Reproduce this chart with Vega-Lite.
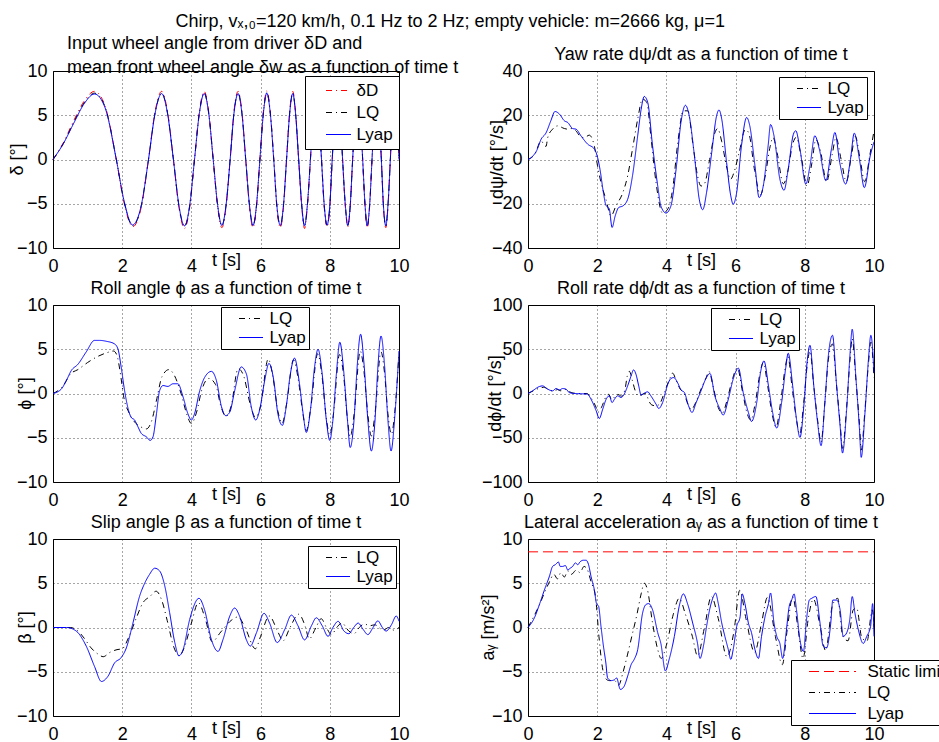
{
"$schema": "https://vega.github.io/schema/vega-lite/v6.json",
"title": {"text": "Chirp, vₓ,₀=120 km/h, 0.1 Hz to 2 Hz; empty vehicle: m=2666 kg, μ=1", "anchor": "middle", "frame": "bounds", "offset": 4, "dx": -28, "fontSize": 18, "fontWeight": "normal", "font": "Liberation Sans", "color": "#000"},
"padding": {"left": 7, "top": 12, "right": 0, "bottom": 0},
"autosize": {"type": "pad"},
"background": "white",
"bounds": "flush",
"columns": 2,
"spacing": {"row": 57, "column": 129},
"resolve": {"scale": {"x": "independent", "y": "independent", "color": "independent", "strokeDash": "independent"}, "axis": {"x": "independent", "y": "independent"}, "legend": {"color": "independent", "strokeDash": "independent"}},
"datasets": {
"d1": [
{"t":0,"D":0,"LQ":0,"Lyap":0},{"t":0.3,"D":1.9,"LQ":1.8,"Lyap":1.8},{"t":0.6,"D":4.4,"LQ":4.2,"Lyap":4.1},{"t":0.9,"D":6.6,"LQ":6.4,"Lyap":6.3},{"t":1.2,"D":7.7,"LQ":7.5,"Lyap":7.4},{"t":1.5,"D":6.1,"LQ":6.0,"Lyap":5.9},{"t":1.83,"D":0,"LQ":0,"Lyap":0},{"t":2.05,"D":-4.8,"LQ":-4.7,"Lyap":-4.6},{"t":2.3,"D":-7.6,"LQ":-7.45,"Lyap":-7.4},{"t":2.55,"D":-5.4,"LQ":-5.25,"Lyap":-5.2},
{"t":2.76,"D":0,"LQ":0,"Lyap":0},{"t":2.95,"D":5.4,"LQ":5.25,"Lyap":5.2},{"t":3.14,"D":7.7,"LQ":7.5,"Lyap":7.45},{"t":3.31,"D":5.4,"LQ":5.25,"Lyap":5.2},{"t":3.48,"D":0,"LQ":0,"Lyap":0},{"t":3.64,"D":-5.4,"LQ":-5.25,"Lyap":-5.2},{"t":3.8,"D":-7.8,"LQ":-7.55,"Lyap":-7.5},{"t":3.95,"D":-5.4,"LQ":-5.25,"Lyap":-5.2},
{"t":4.09,"D":0,"LQ":0,"Lyap":0},{"t":4.23,"D":5.4,"LQ":5.25,"Lyap":5.2},{"t":4.37,"D":7.7,"LQ":7.5,"Lyap":7.45},{"t":4.5,"D":5.4,"LQ":5.25,"Lyap":5.2},{"t":4.63,"D":0,"LQ":0,"Lyap":0},{"t":4.76,"D":-5.4,"LQ":-5.25,"Lyap":-5.2},{"t":4.88,"D":-7.7,"LQ":-7.5,"Lyap":-7.45},{"t":5.0,"D":-5.4,"LQ":-5.25,"Lyap":-5.2},
{"t":5.12,"D":0,"LQ":0,"Lyap":0},{"t":5.23,"D":5.4,"LQ":5.25,"Lyap":5.2},{"t":5.35,"D":7.7,"LQ":7.5,"Lyap":7.45},{"t":5.46,"D":5.4,"LQ":5.25,"Lyap":5.2},{"t":5.57,"D":0,"LQ":0,"Lyap":0},{"t":5.68,"D":-5.4,"LQ":-5.25,"Lyap":-5.2},{"t":5.78,"D":-7.7,"LQ":-7.5,"Lyap":-7.45},{"t":5.88,"D":-5.4,"LQ":-5.25,"Lyap":-5.2},
{"t":5.98,"D":0,"LQ":0,"Lyap":0},{"t":6.08,"D":5.4,"LQ":5.25,"Lyap":5.2},{"t":6.18,"D":7.75,"LQ":7.55,"Lyap":7.5},{"t":6.28,"D":5.4,"LQ":5.25,"Lyap":5.2},{"t":6.38,"D":0,"LQ":0,"Lyap":0},{"t":6.47,"D":-5.4,"LQ":-5.25,"Lyap":-5.2},{"t":6.57,"D":-7.7,"LQ":-7.5,"Lyap":-7.45},{"t":6.66,"D":-5.4,"LQ":-5.25,"Lyap":-5.2},
{"t":6.75,"D":0,"LQ":0,"Lyap":0},{"t":6.84,"D":5.4,"LQ":5.25,"Lyap":5.2},{"t":6.93,"D":7.7,"LQ":7.5,"Lyap":7.45},{"t":7.01,"D":5.4,"LQ":5.25,"Lyap":5.2},{"t":7.1,"D":0,"LQ":0,"Lyap":0},{"t":7.19,"D":-5.4,"LQ":-5.25,"Lyap":-5.2},{"t":7.27,"D":-7.8,"LQ":-7.55,"Lyap":-7.5},{"t":7.35,"D":-5.4,"LQ":-5.25,"Lyap":-5.2},
{"t":7.44,"D":0,"LQ":0,"Lyap":0},{"t":7.52,"D":5.4,"LQ":5.25,"Lyap":5.2},{"t":7.6,"D":7.7,"LQ":7.5,"Lyap":7.45},{"t":7.68,"D":5.4,"LQ":5.25,"Lyap":5.2},{"t":7.76,"D":0,"LQ":0,"Lyap":0},{"t":7.84,"D":-5.4,"LQ":-5.25,"Lyap":-5.2},{"t":7.92,"D":-7.6,"LQ":-7.45,"Lyap":-7.4},{"t":8.0,"D":-5.4,"LQ":-5.25,"Lyap":-5.2},
{"t":8.07,"D":0,"LQ":0,"Lyap":0},{"t":8.15,"D":5.4,"LQ":5.25,"Lyap":5.2},{"t":8.22,"D":7.7,"LQ":7.5,"Lyap":7.45},{"t":8.3,"D":5.4,"LQ":5.25,"Lyap":5.2},{"t":8.37,"D":0,"LQ":0,"Lyap":0},{"t":8.45,"D":-5.4,"LQ":-5.25,"Lyap":-5.2},{"t":8.52,"D":-7.6,"LQ":-7.45,"Lyap":-7.45},{"t":8.59,"D":-5.4,"LQ":-5.25,"Lyap":-5.2},
{"t":8.66,"D":0,"LQ":0,"Lyap":0},{"t":8.74,"D":5.4,"LQ":5.25,"Lyap":5.2},{"t":8.81,"D":7.7,"LQ":7.5,"Lyap":7.45},{"t":8.88,"D":5.4,"LQ":5.25,"Lyap":5.2},{"t":8.95,"D":0,"LQ":0,"Lyap":0},{"t":9.02,"D":-5.4,"LQ":-5.25,"Lyap":-5.2},{"t":9.08,"D":-7.75,"LQ":-7.55,"Lyap":-7.5},{"t":9.15,"D":-5.4,"LQ":-5.25,"Lyap":-5.2},
{"t":9.22,"D":0,"LQ":0,"Lyap":0},{"t":9.29,"D":5.4,"LQ":5.25,"Lyap":5.2},{"t":9.36,"D":7.7,"LQ":7.5,"Lyap":7.45},{"t":9.42,"D":5.4,"LQ":5.25,"Lyap":5.2},{"t":9.49,"D":0,"LQ":0,"Lyap":0},{"t":9.55,"D":-5.4,"LQ":-5.25,"Lyap":-5.2},{"t":9.62,"D":-7.7,"LQ":-7.5,"Lyap":-7.5},{"t":9.68,"D":-5.4,"LQ":-5.25,"Lyap":-5.2},
{"t":9.75,"D":0,"LQ":0,"Lyap":0},{"t":9.81,"D":5.4,"LQ":5.25,"Lyap":5.2},{"t":9.87,"D":7.7,"LQ":7.5,"Lyap":7.45},{"t":9.94,"D":5.4,"LQ":5.25,"Lyap":5.2},{"t":10,"D":0,"LQ":0,"Lyap":0}
],
"d2": [
{"t":0,"v":0,"s":"LQ"},{"t":0.2,"v":2.5,"s":"LQ"},{"t":0.38,"v":8.4,"s":"LQ"},{"t":0.47,"v":6.5,"s":"LQ"},{"t":0.52,"v":5.9,"s":"LQ"},{"t":0.57,"v":9.9,"s":"LQ"},{"t":0.71,"v":13.7,"s":"LQ"},{"t":0.86,"v":15.2,"s":"LQ"},{"t":1.05,"v":14,"s":"LQ"},{"t":1.15,"v":13.7,"s":"LQ"},{"t":1.24,"v":14,"s":"LQ"},{"t":1.37,"v":13.2,"s":"LQ"},{"t":1.53,"v":10.2,"s":"LQ"},{"t":1.63,"v":9.9,"s":"LQ"},{"t":1.77,"v":11,"s":"LQ"},{"t":1.92,"v":5.9,"s":"LQ"},{"t":2.01,"v":-2.9,"s":"LQ"},{"t":2.11,"v":-10.4,"s":"LQ"},{"t":2.25,"v":-17.9,"s":"LQ"},{"t":2.4,"v":-25.5,"s":"LQ"},{"t":2.54,"v":-21,"s":"LQ"},{"t":2.74,"v":-15,"s":"LQ"},{"t":2.88,"v":-7.4,"s":"LQ"},{"t":3.02,"v":4.7,"s":"LQ"},{"t":3.17,"v":18.2,"s":"LQ"},{"t":3.31,"v":27.3,"s":"LQ"},{"t":3.43,"v":25.8,"s":"LQ"},{"t":3.56,"v":9.2,"s":"LQ"},{"t":3.7,"v":-10.4,"s":"LQ"},{"t":3.89,"v":-24.2,"s":"LQ"},{"t":4.04,"v":-22.4,"s":"LQ"},{"t":4.18,"v":-13.4,"s":"LQ"},{"t":4.33,"v":7.7,"s":"LQ"},{"t":4.49,"v":22,"s":"LQ"},{"t":4.62,"v":22,"s":"LQ"},{"t":4.76,"v":7.7,"s":"LQ"},{"t":4.9,"v":-7.4,"s":"LQ"},{"t":5.0,"v":-12,"s":"LQ"},{"t":5.1,"v":-11,"s":"LQ"},{"t":5.25,"v":0,"s":"LQ"},{"t":5.4,"v":12,"s":"LQ"},{"t":5.48,"v":14,"s":"LQ"},{"t":5.6,"v":8,"s":"LQ"},{"t":5.75,"v":-4,"s":"LQ"},{"t":5.85,"v":-9,"s":"LQ"},{"t":5.95,"v":-6,"s":"LQ"},{"t":6.1,"v":3,"s":"LQ"},{"t":6.28,"v":13.5,"s":"LQ"},{"t":6.38,"v":12,"s":"LQ"},{"t":6.55,"v":-5,"s":"LQ"},{"t":6.72,"v":-16,"s":"LQ"},{"t":6.85,"v":-8,"s":"LQ"},{"t":7.0,"v":6,"s":"LQ"},{"t":7.08,"v":10,"s":"LQ"},{"t":7.2,"v":3,"s":"LQ"},{"t":7.38,"v":-11,"s":"LQ"},{"t":7.5,"v":-6,"s":"LQ"},{"t":7.65,"v":7,"s":"LQ"},{"t":7.75,"v":10,"s":"LQ"},{"t":7.9,"v":1,"s":"LQ"},{"t":8.06,"v":-12,"s":"LQ"},{"t":8.2,"v":-2,"s":"LQ"},{"t":8.32,"v":9,"s":"LQ"},{"t":8.45,"v":4,"s":"LQ"},{"t":8.63,"v":-10,"s":"LQ"},{"t":8.8,"v":3,"s":"LQ"},{"t":8.9,"v":10,"s":"LQ"},{"t":9.05,"v":0,"s":"LQ"},{"t":9.2,"v":-10,"s":"LQ"},{"t":9.35,"v":2,"s":"LQ"},{"t":9.46,"v":10.5,"s":"LQ"},{"t":9.6,"v":0,"s":"LQ"},{"t":9.73,"v":-10,"s":"LQ"},{"t":9.88,"v":2,"s":"LQ"},{"t":10,"v":13,"s":"LQ"},
{"t":0,"v":0,"s":"Lyap"},{"t":0.13,"v":1.4,"s":"Lyap"},{"t":0.25,"v":4,"s":"Lyap"},{"t":0.38,"v":9.2,"s":"Lyap"},{"t":0.52,"v":12,"s":"Lyap"},{"t":0.66,"v":17.5,"s":"Lyap"},{"t":0.78,"v":21.7,"s":"Lyap"},{"t":0.91,"v":20.5,"s":"Lyap"},{"t":1.05,"v":17.5,"s":"Lyap"},{"t":1.15,"v":16.7,"s":"Lyap"},{"t":1.29,"v":14,"s":"Lyap"},{"t":1.39,"v":13.7,"s":"Lyap"},{"t":1.53,"v":10.7,"s":"Lyap"},{"t":1.72,"v":7,"s":"Lyap"},{"t":1.92,"v":4.7,"s":"Lyap"},{"t":2.01,"v":1,"s":"Lyap"},{"t":2.08,"v":-4.4,"s":"Lyap"},{"t":2.18,"v":-15,"s":"Lyap"},{"t":2.25,"v":-20.6,"s":"Lyap"},{"t":2.35,"v":-22.4,"s":"Lyap"},{"t":2.43,"v":-30.7,"s":"Lyap"},{"t":2.52,"v":-25.5,"s":"Lyap"},{"t":2.62,"v":-21.7,"s":"Lyap"},{"t":2.74,"v":-21,"s":"Lyap"},{"t":2.88,"v":-18,"s":"Lyap"},{"t":3.02,"v":-7.4,"s":"Lyap"},{"t":3.17,"v":10.7,"s":"Lyap"},{"t":3.27,"v":22.7,"s":"Lyap"},{"t":3.36,"v":28.5,"s":"Lyap"},{"t":3.46,"v":25.8,"s":"Lyap"},{"t":3.6,"v":6.2,"s":"Lyap"},{"t":3.75,"v":-12,"s":"Lyap"},{"t":3.84,"v":-21,"s":"Lyap"},{"t":3.99,"v":-24.2,"s":"Lyap"},{"t":4.13,"v":-21,"s":"Lyap"},{"t":4.28,"v":-4.4,"s":"Lyap"},{"t":4.42,"v":16.7,"s":"Lyap"},{"t":4.55,"v":24.5,"s":"Lyap"},{"t":4.66,"v":19.7,"s":"Lyap"},{"t":4.81,"v":1.7,"s":"Lyap"},{"t":4.95,"v":-18,"s":"Lyap"},{"t":5.05,"v":-22.7,"s":"Lyap"},{"t":5.16,"v":-15,"s":"Lyap"},{"t":5.31,"v":3.2,"s":"Lyap"},{"t":5.45,"v":19.7,"s":"Lyap"},{"t":5.52,"v":22.4,"s":"Lyap"},{"t":5.6,"v":18.2,"s":"Lyap"},{"t":5.74,"v":-1.4,"s":"Lyap"},{"t":5.86,"v":-16.4,"s":"Lyap"},{"t":5.93,"v":-20.2,"s":"Lyap"},{"t":6.03,"v":-15,"s":"Lyap"},{"t":6.17,"v":6.2,"s":"Lyap"},{"t":6.32,"v":19,"s":"Lyap"},{"t":6.41,"v":15.2,"s":"Lyap"},{"t":6.56,"v":-2.9,"s":"Lyap"},{"t":6.68,"v":-17.2,"s":"Lyap"},{"t":6.8,"v":-11.9,"s":"Lyap"},{"t":6.94,"v":6.2,"s":"Lyap"},{"t":7.01,"v":15.8,"s":"Lyap"},{"t":7.11,"v":10.7,"s":"Lyap"},{"t":7.28,"v":-8.9,"s":"Lyap"},{"t":7.4,"v":-13.9,"s":"Lyap"},{"t":7.52,"v":-4.4,"s":"Lyap"},{"t":7.67,"v":11.4,"s":"Lyap"},{"t":7.74,"v":13,"s":"Lyap"},{"t":7.86,"v":4.7,"s":"Lyap"},{"t":8.03,"v":-11.1,"s":"Lyap"},{"t":8.15,"v":-2.9,"s":"Lyap"},{"t":8.29,"v":10.7,"s":"Lyap"},{"t":8.42,"v":4.7,"s":"Lyap"},{"t":8.61,"v":-9.6,"s":"Lyap"},{"t":8.77,"v":4.7,"s":"Lyap"},{"t":8.87,"v":12.2,"s":"Lyap"},{"t":9.01,"v":-1.4,"s":"Lyap"},{"t":9.18,"v":-11.1,"s":"Lyap"},{"t":9.32,"v":0.1,"s":"Lyap"},{"t":9.43,"v":11.9,"s":"Lyap"},{"t":9.58,"v":0,"s":"Lyap"},{"t":9.72,"v":-12.7,"s":"Lyap"},{"t":9.89,"v":1.6,"s":"Lyap"},{"t":10,"v":8,"s":"Lyap"}
],
"d3": [
{"t":0,"v":0,"s":"LQ"},{"t":0.3,"v":0.9,"s":"LQ"},{"t":0.5,"v":2.2,"s":"LQ"},{"t":0.72,"v":2.7,"s":"LQ"},{"t":1.0,"v":3.5,"s":"LQ"},{"t":1.3,"v":4.2,"s":"LQ"},{"t":1.55,"v":4.6,"s":"LQ"},{"t":1.75,"v":4.8,"s":"LQ"},{"t":1.85,"v":4.3,"s":"LQ"},{"t":1.95,"v":2.2,"s":"LQ"},{"t":2.05,"v":-0.5,"s":"LQ"},{"t":2.2,"v":-2.2,"s":"LQ"},{"t":2.4,"v":-3.4,"s":"LQ"},{"t":2.55,"v":-3.8,"s":"LQ"},{"t":2.7,"v":-4.0,"s":"LQ"},{"t":2.85,"v":-3.1,"s":"LQ"},{"t":3.0,"v":-0.6,"s":"LQ"},{"t":3.15,"v":1.9,"s":"LQ"},{"t":3.35,"v":2.7,"s":"LQ"},{"t":3.5,"v":2.1,"s":"LQ"},{"t":3.7,"v":0,"s":"LQ"},{"t":3.88,"v":-2.5,"s":"LQ"},{"t":4.0,"v":-3.4,"s":"LQ"},{"t":4.15,"v":-2.1,"s":"LQ"},{"t":4.3,"v":0.4,"s":"LQ"},{"t":4.5,"v":1.7,"s":"LQ"},{"t":4.7,"v":1.0,"s":"LQ"},{"t":4.85,"v":-1.4,"s":"LQ"},{"t":5.0,"v":-2.6,"s":"LQ"},{"t":5.15,"v":-1.4,"s":"LQ"},{"t":5.35,"v":2.8,"s":"LQ"},{"t":5.5,"v":2.1,"s":"LQ"},{"t":5.7,"v":-1.2,"s":"LQ"},{"t":5.85,"v":-2.7,"s":"LQ"},{"t":6.0,"v":-1.4,"s":"LQ"},{"t":6.22,"v":3.9,"s":"LQ"},{"t":6.35,"v":2.0,"s":"LQ"},{"t":6.5,"v":-2.0,"s":"LQ"},{"t":6.62,"v":-3.4,"s":"LQ"},{"t":6.75,"v":-1.2,"s":"LQ"},{"t":6.95,"v":3.8,"s":"LQ"},{"t":7.1,"v":1.3,"s":"LQ"},{"t":7.22,"v":-2.2,"s":"LQ"},{"t":7.32,"v":-4.2,"s":"LQ"},{"t":7.45,"v":-1.6,"s":"LQ"},{"t":7.65,"v":4.5,"s":"LQ"},{"t":7.78,"v":1.8,"s":"LQ"},{"t":7.9,"v":-2.8,"s":"LQ"},{"t":8.0,"v":-4.7,"s":"LQ"},{"t":8.1,"v":-2.5,"s":"LQ"},{"t":8.28,"v":4.4,"s":"LQ"},{"t":8.4,"v":2.0,"s":"LQ"},{"t":8.5,"v":-2.5,"s":"LQ"},{"t":8.59,"v":-4.9,"s":"LQ"},{"t":8.7,"v":-2.4,"s":"LQ"},{"t":8.88,"v":4.8,"s":"LQ"},{"t":8.99,"v":2.4,"s":"LQ"},{"t":9.1,"v":-2.4,"s":"LQ"},{"t":9.2,"v":-4.8,"s":"LQ"},{"t":9.3,"v":-2.5,"s":"LQ"},{"t":9.48,"v":4.7,"s":"LQ"},{"t":9.58,"v":2.4,"s":"LQ"},{"t":9.68,"v":-2.3,"s":"LQ"},{"t":9.78,"v":-4.6,"s":"LQ"},{"t":9.88,"v":-2.0,"s":"LQ"},{"t":10,"v":4.6,"s":"LQ"},
{"t":0,"v":0,"s":"Lyap"},{"t":0.24,"v":0.5,"s":"Lyap"},{"t":0.39,"v":1.5,"s":"Lyap"},{"t":0.53,"v":2.6,"s":"Lyap"},{"t":0.72,"v":3.3,"s":"Lyap"},{"t":0.96,"v":4.7,"s":"Lyap"},{"t":1.2,"v":6.0,"s":"Lyap"},{"t":1.35,"v":6.0,"s":"Lyap"},{"t":1.54,"v":5.9,"s":"Lyap"},{"t":1.78,"v":5.6,"s":"Lyap"},{"t":1.88,"v":5.0,"s":"Lyap"},{"t":1.97,"v":3.0,"s":"Lyap"},{"t":2.07,"v":0.3,"s":"Lyap"},{"t":2.17,"v":-1.7,"s":"Lyap"},{"t":2.26,"v":-2.7,"s":"Lyap"},{"t":2.36,"v":-3.0,"s":"Lyap"},{"t":2.46,"v":-3.8,"s":"Lyap"},{"t":2.55,"v":-4.5,"s":"Lyap"},{"t":2.7,"v":-4.9,"s":"Lyap"},{"t":2.81,"v":-5.3,"s":"Lyap"},{"t":2.89,"v":-4.9,"s":"Lyap"},{"t":2.99,"v":-2.3,"s":"Lyap"},{"t":3.08,"v":0.3,"s":"Lyap"},{"t":3.18,"v":0.9,"s":"Lyap"},{"t":3.32,"v":0.8,"s":"Lyap"},{"t":3.47,"v":1.1,"s":"Lyap"},{"t":3.61,"v":1.1,"s":"Lyap"},{"t":3.76,"v":-0.4,"s":"Lyap"},{"t":3.9,"v":-2.3,"s":"Lyap"},{"t":4.0,"v":-3.0,"s":"Lyap"},{"t":4.09,"v":-2.3,"s":"Lyap"},{"t":4.24,"v":0.3,"s":"Lyap"},{"t":4.38,"v":1.8,"s":"Lyap"},{"t":4.58,"v":2.5,"s":"Lyap"},{"t":4.72,"v":1.5,"s":"Lyap"},{"t":4.87,"v":-1.5,"s":"Lyap"},{"t":4.99,"v":-2.5,"s":"Lyap"},{"t":5.11,"v":-2.1,"s":"Lyap"},{"t":5.25,"v":0.3,"s":"Lyap"},{"t":5.44,"v":3.0,"s":"Lyap"},{"t":5.59,"v":2.2,"s":"Lyap"},{"t":5.73,"v":-1.5,"s":"Lyap"},{"t":5.86,"v":-3.0,"s":"Lyap"},{"t":5.97,"v":-1.9,"s":"Lyap"},{"t":6.12,"v":1.5,"s":"Lyap"},{"t":6.24,"v":3.4,"s":"Lyap"},{"t":6.38,"v":1.5,"s":"Lyap"},{"t":6.5,"v":-2.3,"s":"Lyap"},{"t":6.63,"v":-3.6,"s":"Lyap"},{"t":6.74,"v":-1.5,"s":"Lyap"},{"t":6.86,"v":2.2,"s":"Lyap"},{"t":6.98,"v":4.0,"s":"Lyap"},{"t":7.11,"v":1.5,"s":"Lyap"},{"t":7.23,"v":-2.3,"s":"Lyap"},{"t":7.32,"v":-4.4,"s":"Lyap"},{"t":7.44,"v":-1.9,"s":"Lyap"},{"t":7.56,"v":3.0,"s":"Lyap"},{"t":7.66,"v":5.0,"s":"Lyap"},{"t":7.78,"v":2.2,"s":"Lyap"},{"t":7.9,"v":-3.0,"s":"Lyap"},{"t":8.0,"v":-5.3,"s":"Lyap"},{"t":8.09,"v":-3.0,"s":"Lyap"},{"t":8.19,"v":2.2,"s":"Lyap"},{"t":8.29,"v":5.8,"s":"Lyap"},{"t":8.4,"v":2.6,"s":"Lyap"},{"t":8.51,"v":-3.0,"s":"Lyap"},{"t":8.59,"v":-6.1,"s":"Lyap"},{"t":8.7,"v":-3.0,"s":"Lyap"},{"t":8.79,"v":3.0,"s":"Lyap"},{"t":8.89,"v":6.7,"s":"Lyap"},{"t":8.99,"v":3.3,"s":"Lyap"},{"t":9.1,"v":-3.0,"s":"Lyap"},{"t":9.2,"v":-6.5,"s":"Lyap"},{"t":9.3,"v":-3.4,"s":"Lyap"},{"t":9.39,"v":3.0,"s":"Lyap"},{"t":9.48,"v":6.5,"s":"Lyap"},{"t":9.58,"v":3.3,"s":"Lyap"},{"t":9.68,"v":-3.0,"s":"Lyap"},{"t":9.77,"v":-6.5,"s":"Lyap"},{"t":9.88,"v":-2.5,"s":"Lyap"},{"t":10,"v":4.8,"s":"Lyap"}
],
"d4": [
{"t":0,"v":0,"s":"LQ"},{"t":0.15,"v":3,"s":"LQ"},{"t":0.33,"v":6,"s":"LQ"},{"t":0.45,"v":7,"s":"LQ"},{"t":0.6,"v":4.5,"s":"LQ"},{"t":0.75,"v":2.5,"s":"LQ"},{"t":0.85,"v":4.5,"s":"LQ"},{"t":0.95,"v":3,"s":"LQ"},{"t":1.05,"v":5,"s":"LQ"},{"t":1.15,"v":3,"s":"LQ"},{"t":1.3,"v":0.5,"s":"LQ"},{"t":1.5,"v":0,"s":"LQ"},{"t":1.7,"v":0,"s":"LQ"},{"t":1.82,"v":-5,"s":"LQ"},{"t":1.95,"v":-14,"s":"LQ"},{"t":2.03,"v":-21,"s":"LQ"},{"t":2.12,"v":-16,"s":"LQ"},{"t":2.25,"v":-4,"s":"LQ"},{"t":2.33,"v":-1,"s":"LQ"},{"t":2.42,"v":-7,"s":"LQ"},{"t":2.5,"v":-4,"s":"LQ"},{"t":2.6,"v":-1,"s":"LQ"},{"t":2.7,"v":-3,"s":"LQ"},{"t":2.8,"v":4,"s":"LQ"},{"t":2.87,"v":20,"s":"LQ"},{"t":2.93,"v":25,"s":"LQ"},{"t":3.02,"v":14,"s":"LQ"},{"t":3.1,"v":3,"s":"LQ"},{"t":3.2,"v":-3,"s":"LQ"},{"t":3.3,"v":-1,"s":"LQ"},{"t":3.4,"v":0,"s":"LQ"},{"t":3.5,"v":-9,"s":"LQ"},{"t":3.58,"v":-13,"s":"LQ"},{"t":3.7,"v":-14,"s":"LQ"},{"t":3.8,"v":-12,"s":"LQ"},{"t":3.95,"v":2,"s":"LQ"},{"t":4.1,"v":17,"s":"LQ"},{"t":4.18,"v":23,"s":"LQ"},{"t":4.28,"v":15,"s":"LQ"},{"t":4.4,"v":5,"s":"LQ"},{"t":4.5,"v":1,"s":"LQ"},{"t":4.62,"v":-12,"s":"LQ"},{"t":4.72,"v":-18,"s":"LQ"},{"t":4.85,"v":-10,"s":"LQ"},{"t":5.0,"v":5,"s":"LQ"},{"t":5.15,"v":18,"s":"LQ"},{"t":5.23,"v":25,"s":"LQ"},{"t":5.35,"v":8,"s":"LQ"},{"t":5.5,"v":-16,"s":"LQ"},{"t":5.62,"v":-22,"s":"LQ"},{"t":5.75,"v":-8,"s":"LQ"},{"t":5.88,"v":12,"s":"LQ"},{"t":6.05,"v":29,"s":"LQ"},{"t":6.2,"v":2,"s":"LQ"},{"t":6.33,"v":-22,"s":"LQ"},{"t":6.44,"v":-30,"s":"LQ"},{"t":6.58,"v":-8,"s":"LQ"},{"t":6.7,"v":22,"s":"LQ"},{"t":6.8,"v":35,"s":"LQ"},{"t":6.93,"v":8,"s":"LQ"},{"t":7.05,"v":-22,"s":"LQ"},{"t":7.17,"v":-38,"s":"LQ"},{"t":7.3,"v":-10,"s":"LQ"},{"t":7.43,"v":28,"s":"LQ"},{"t":7.51,"v":42,"s":"LQ"},{"t":7.63,"v":8,"s":"LQ"},{"t":7.75,"v":-27,"s":"LQ"},{"t":7.85,"v":-46,"s":"LQ"},{"t":7.97,"v":-10,"s":"LQ"},{"t":8.07,"v":32,"s":"LQ"},{"t":8.15,"v":48,"s":"LQ"},{"t":8.26,"v":8,"s":"LQ"},{"t":8.37,"v":-30,"s":"LQ"},{"t":8.47,"v":-55,"s":"LQ"},{"t":8.58,"v":-10,"s":"LQ"},{"t":8.68,"v":38,"s":"LQ"},{"t":8.8,"v":56,"s":"LQ"},{"t":8.92,"v":8,"s":"LQ"},{"t":9.02,"v":-33,"s":"LQ"},{"t":9.09,"v":-62,"s":"LQ"},{"t":9.21,"v":-15,"s":"LQ"},{"t":9.31,"v":40,"s":"LQ"},{"t":9.37,"v":62,"s":"LQ"},{"t":9.48,"v":14,"s":"LQ"},{"t":9.58,"v":-35,"s":"LQ"},{"t":9.63,"v":-64,"s":"LQ"},{"t":9.74,"v":-18,"s":"LQ"},{"t":9.84,"v":34,"s":"LQ"},{"t":9.91,"v":58,"s":"LQ"},{"t":10,"v":18,"s":"LQ"},
{"t":0,"v":0,"s":"Lyap"},{"t":0.13,"v":3,"s":"Lyap"},{"t":0.33,"v":7.9,"s":"Lyap"},{"t":0.42,"v":8.6,"s":"Lyap"},{"t":0.57,"v":4.9,"s":"Lyap"},{"t":0.71,"v":3,"s":"Lyap"},{"t":0.81,"v":5.6,"s":"Lyap"},{"t":0.91,"v":4.1,"s":"Lyap"},{"t":1.0,"v":5.6,"s":"Lyap"},{"t":1.1,"v":4.9,"s":"Lyap"},{"t":1.19,"v":1.1,"s":"Lyap"},{"t":1.34,"v":0,"s":"Lyap"},{"t":1.58,"v":-0.4,"s":"Lyap"},{"t":1.72,"v":-0.8,"s":"Lyap"},{"t":1.82,"v":-6.4,"s":"Lyap"},{"t":1.97,"v":-19.5,"s":"Lyap"},{"t":2.06,"v":-28.2,"s":"Lyap"},{"t":2.16,"v":-17.7,"s":"Lyap"},{"t":2.26,"v":-6.4,"s":"Lyap"},{"t":2.35,"v":-2.6,"s":"Lyap"},{"t":2.43,"v":-10.2,"s":"Lyap"},{"t":2.5,"v":-6.4,"s":"Lyap"},{"t":2.59,"v":-2.6,"s":"Lyap"},{"t":2.69,"v":-4.5,"s":"Lyap"},{"t":2.78,"v":-0.8,"s":"Lyap"},{"t":2.88,"v":8.6,"s":"Lyap"},{"t":2.98,"v":19.9,"s":"Lyap"},{"t":3.05,"v":26.7,"s":"Lyap"},{"t":3.12,"v":21.8,"s":"Lyap"},{"t":3.2,"v":8.6,"s":"Lyap"},{"t":3.27,"v":-1.9,"s":"Lyap"},{"t":3.36,"v":0.4,"s":"Lyap"},{"t":3.46,"v":1.9,"s":"Lyap"},{"t":3.55,"v":-2.6,"s":"Lyap"},{"t":3.7,"v":-12,"s":"Lyap"},{"t":3.78,"v":-16.9,"s":"Lyap"},{"t":3.89,"v":-10.2,"s":"Lyap"},{"t":4.04,"v":10.5,"s":"Lyap"},{"t":4.13,"v":16.9,"s":"Lyap"},{"t":4.21,"v":18,"s":"Lyap"},{"t":4.33,"v":11.7,"s":"Lyap"},{"t":4.42,"v":4.1,"s":"Lyap"},{"t":4.52,"v":1.1,"s":"Lyap"},{"t":4.64,"v":-13.9,"s":"Lyap"},{"t":4.74,"v":-21.4,"s":"Lyap"},{"t":4.86,"v":-10.2,"s":"Lyap"},{"t":5.0,"v":3,"s":"Lyap"},{"t":5.12,"v":15,"s":"Lyap"},{"t":5.26,"v":22.6,"s":"Lyap"},{"t":5.4,"v":-2.6,"s":"Lyap"},{"t":5.55,"v":-17.7,"s":"Lyap"},{"t":5.64,"v":-24.4,"s":"Lyap"},{"t":5.79,"v":-6.4,"s":"Lyap"},{"t":5.93,"v":16.2,"s":"Lyap"},{"t":6.08,"v":28.6,"s":"Lyap"},{"t":6.22,"v":1.1,"s":"Lyap"},{"t":6.37,"v":-21.4,"s":"Lyap"},{"t":6.46,"v":-31.6,"s":"Lyap"},{"t":6.61,"v":-10.2,"s":"Lyap"},{"t":6.72,"v":23.7,"s":"Lyap"},{"t":6.82,"v":36.8,"s":"Lyap"},{"t":6.95,"v":8.6,"s":"Lyap"},{"t":7.07,"v":-21.4,"s":"Lyap"},{"t":7.19,"v":-39,"s":"Lyap"},{"t":7.33,"v":-10.2,"s":"Lyap"},{"t":7.45,"v":29.3,"s":"Lyap"},{"t":7.52,"v":45.5,"s":"Lyap"},{"t":7.65,"v":8.6,"s":"Lyap"},{"t":7.76,"v":-29,"s":"Lyap"},{"t":7.86,"v":-49.6,"s":"Lyap"},{"t":7.98,"v":-10.2,"s":"Lyap"},{"t":8.07,"v":36.8,"s":"Lyap"},{"t":8.15,"v":54.5,"s":"Lyap"},{"t":8.26,"v":8.6,"s":"Lyap"},{"t":8.37,"v":-32.7,"s":"Lyap"},{"t":8.47,"v":-59,"s":"Lyap"},{"t":8.58,"v":-10.2,"s":"Lyap"},{"t":8.68,"v":42.5,"s":"Lyap"},{"t":8.8,"v":65.8,"s":"Lyap"},{"t":8.92,"v":8.6,"s":"Lyap"},{"t":9.02,"v":-36.5,"s":"Lyap"},{"t":9.09,"v":-67.3,"s":"Lyap"},{"t":9.21,"v":-17.7,"s":"Lyap"},{"t":9.31,"v":46.2,"s":"Lyap"},{"t":9.37,"v":72.6,"s":"Lyap"},{"t":9.48,"v":16.2,"s":"Lyap"},{"t":9.58,"v":-40.2,"s":"Lyap"},{"t":9.63,"v":-72.2,"s":"Lyap"},{"t":9.74,"v":-21.4,"s":"Lyap"},{"t":9.84,"v":38.7,"s":"Lyap"},{"t":9.91,"v":65.8,"s":"Lyap"},{"t":10,"v":23.7,"s":"Lyap"}
],
"d5": [
{"t":0,"v":0,"s":"LQ"},{"t":0.5,"v":0,"s":"LQ"},{"t":0.72,"v":-0.4,"s":"LQ"},{"t":0.9,"v":-1.2,"s":"LQ"},{"t":1.1,"v":-2.3,"s":"LQ"},{"t":1.3,"v":-3.0,"s":"LQ"},{"t":1.45,"v":-3.3,"s":"LQ"},{"t":1.65,"v":-2.8,"s":"LQ"},{"t":1.85,"v":-2.5,"s":"LQ"},{"t":2.0,"v":-2.4,"s":"LQ"},{"t":2.2,"v":-1.0,"s":"LQ"},{"t":2.4,"v":1.0,"s":"LQ"},{"t":2.6,"v":2.8,"s":"LQ"},{"t":2.8,"v":3.5,"s":"LQ"},{"t":2.98,"v":4.1,"s":"LQ"},{"t":3.15,"v":3.0,"s":"LQ"},{"t":3.3,"v":0.8,"s":"LQ"},{"t":3.5,"v":-2.3,"s":"LQ"},{"t":3.65,"v":-3.2,"s":"LQ"},{"t":3.8,"v":-2.2,"s":"LQ"},{"t":4.0,"v":0.5,"s":"LQ"},{"t":4.2,"v":2.8,"s":"LQ"},{"t":4.4,"v":1.0,"s":"LQ"},{"t":4.6,"v":-1.6,"s":"LQ"},{"t":4.85,"v":-0.5,"s":"LQ"},{"t":5.15,"v":0.8,"s":"LQ"},{"t":5.35,"v":1.2,"s":"LQ"},{"t":5.55,"v":0,"s":"LQ"},{"t":5.85,"v":-2.4,"s":"LQ"},{"t":6.0,"v":-1.0,"s":"LQ"},{"t":6.25,"v":1.3,"s":"LQ"},{"t":6.5,"v":-0.5,"s":"LQ"},{"t":6.65,"v":-1.5,"s":"LQ"},{"t":6.85,"v":0,"s":"LQ"},{"t":7.1,"v":1.5,"s":"LQ"},{"t":7.3,"v":0,"s":"LQ"},{"t":7.4,"v":-1.3,"s":"LQ"},{"t":7.6,"v":0,"s":"LQ"},{"t":7.75,"v":1.0,"s":"LQ"},{"t":7.9,"v":0,"s":"LQ"},{"t":8.05,"v":-0.8,"s":"LQ"},{"t":8.2,"v":0,"s":"LQ"},{"t":8.35,"v":0.5,"s":"LQ"},{"t":8.55,"v":-0.4,"s":"LQ"},{"t":8.7,"v":-0.7,"s":"LQ"},{"t":8.85,"v":0,"s":"LQ"},{"t":9.0,"v":0.4,"s":"LQ"},{"t":9.15,"v":0.2,"s":"LQ"},{"t":9.3,"v":0.3,"s":"LQ"},{"t":9.55,"v":-0.3,"s":"LQ"},{"t":9.7,"v":0,"s":"LQ"},{"t":9.85,"v":-0.3,"s":"LQ"},{"t":10,"v":0,"s":"LQ"},
{"t":0,"v":0,"s":"Lyap"},{"t":0.39,"v":0,"s":"Lyap"},{"t":0.67,"v":-0.4,"s":"Lyap"},{"t":0.96,"v":-2.1,"s":"Lyap"},{"t":1.2,"v":-4.4,"s":"Lyap"},{"t":1.4,"v":-6.1,"s":"Lyap"},{"t":1.59,"v":-5.5,"s":"Lyap"},{"t":1.78,"v":-4.0,"s":"Lyap"},{"t":1.97,"v":-3.4,"s":"Lyap"},{"t":2.12,"v":-2.3,"s":"Lyap"},{"t":2.31,"v":0.5,"s":"Lyap"},{"t":2.5,"v":3.5,"s":"Lyap"},{"t":2.65,"v":5.0,"s":"Lyap"},{"t":2.79,"v":6.0,"s":"Lyap"},{"t":2.94,"v":6.7,"s":"Lyap"},{"t":3.08,"v":6.4,"s":"Lyap"},{"t":3.23,"v":4.7,"s":"Lyap"},{"t":3.37,"v":1.7,"s":"Lyap"},{"t":3.52,"v":-1.7,"s":"Lyap"},{"t":3.64,"v":-3.2,"s":"Lyap"},{"t":3.76,"v":-2.5,"s":"Lyap"},{"t":3.95,"v":0.9,"s":"Lyap"},{"t":4.22,"v":3.3,"s":"Lyap"},{"t":4.38,"v":2.0,"s":"Lyap"},{"t":4.58,"v":-1.4,"s":"Lyap"},{"t":4.77,"v":-2.7,"s":"Lyap"},{"t":4.91,"v":-1.4,"s":"Lyap"},{"t":5.11,"v":1.3,"s":"Lyap"},{"t":5.25,"v":2.2,"s":"Lyap"},{"t":5.39,"v":1.3,"s":"Lyap"},{"t":5.59,"v":-1.4,"s":"Lyap"},{"t":5.7,"v":-2.1,"s":"Lyap"},{"t":5.88,"v":-0.6,"s":"Lyap"},{"t":6.1,"v":1.6,"s":"Lyap"},{"t":6.26,"v":0.5,"s":"Lyap"},{"t":6.48,"v":-1.7,"s":"Lyap"},{"t":6.7,"v":-0.2,"s":"Lyap"},{"t":6.89,"v":1.4,"s":"Lyap"},{"t":7.08,"v":0.2,"s":"Lyap"},{"t":7.27,"v":-1.4,"s":"Lyap"},{"t":7.47,"v":0.2,"s":"Lyap"},{"t":7.61,"v":1.1,"s":"Lyap"},{"t":7.78,"v":0.2,"s":"Lyap"},{"t":7.95,"v":-1.0,"s":"Lyap"},{"t":8.09,"v":0,"s":"Lyap"},{"t":8.24,"v":0.7,"s":"Lyap"},{"t":8.41,"v":-0.4,"s":"Lyap"},{"t":8.55,"v":-0.7,"s":"Lyap"},{"t":8.69,"v":0,"s":"Lyap"},{"t":8.82,"v":0.5,"s":"Lyap"},{"t":8.96,"v":-0.2,"s":"Lyap"},{"t":9.1,"v":-0.8,"s":"Lyap"},{"t":9.25,"v":0,"s":"Lyap"},{"t":9.39,"v":0.75,"s":"Lyap"},{"t":9.52,"v":0,"s":"Lyap"},{"t":9.63,"v":-0.4,"s":"Lyap"},{"t":9.78,"v":0.3,"s":"Lyap"},{"t":9.92,"v":1.3,"s":"Lyap"},{"t":10,"v":0.7,"s":"Lyap"}
],
"d6": [
{"t":0,"v":8.55,"s":"Static limit"},{"t":10,"v":8.55,"s":"Static limit"},
{"t":0,"v":0,"s":"LQ"},{"t":0.3,"v":2.3,"s":"LQ"},{"t":0.6,"v":5.0,"s":"LQ"},{"t":0.75,"v":6.0,"s":"LQ"},{"t":0.85,"v":5.5,"s":"LQ"},{"t":0.95,"v":6.2,"s":"LQ"},{"t":1.05,"v":5.7,"s":"LQ"},{"t":1.15,"v":6.4,"s":"LQ"},{"t":1.25,"v":6.0,"s":"LQ"},{"t":1.4,"v":6.5,"s":"LQ"},{"t":1.5,"v":6.2,"s":"LQ"},{"t":1.62,"v":6.9,"s":"LQ"},{"t":1.72,"v":6.5,"s":"LQ"},{"t":1.82,"v":5.2,"s":"LQ"},{"t":1.95,"v":3.5,"s":"LQ"},{"t":2.05,"v":-1.0,"s":"LQ"},{"t":2.15,"v":-4.5,"s":"LQ"},{"t":2.25,"v":-5.8,"s":"LQ"},{"t":2.35,"v":-6.0,"s":"LQ"},{"t":2.5,"v":-6.0,"s":"LQ"},{"t":2.62,"v":-6.5,"s":"LQ"},{"t":2.75,"v":-5.0,"s":"LQ"},{"t":2.88,"v":-3.0,"s":"LQ"},{"t":3.0,"v":-1.0,"s":"LQ"},{"t":3.15,"v":1.5,"s":"LQ"},{"t":3.27,"v":3.8,"s":"LQ"},{"t":3.36,"v":5.0,"s":"LQ"},{"t":3.45,"v":4.3,"s":"LQ"},{"t":3.6,"v":0.5,"s":"LQ"},{"t":3.75,"v":-2.5,"s":"LQ"},{"t":3.85,"v":-3.5,"s":"LQ"},{"t":4.0,"v":-2.0,"s":"LQ"},{"t":4.2,"v":1.5,"s":"LQ"},{"t":4.37,"v":3.3,"s":"LQ"},{"t":4.55,"v":1.5,"s":"LQ"},{"t":4.75,"v":-1.0,"s":"LQ"},{"t":4.9,"v":-3.2,"s":"LQ"},{"t":5.1,"v":0,"s":"LQ"},{"t":5.3,"v":3.5,"s":"LQ"},{"t":5.5,"v":1.0,"s":"LQ"},{"t":5.75,"v":-3.3,"s":"LQ"},{"t":5.95,"v":-0.5,"s":"LQ"},{"t":6.12,"v":4.2,"s":"LQ"},{"t":6.3,"v":1.0,"s":"LQ"},{"t":6.55,"v":-2.8,"s":"LQ"},{"t":6.75,"v":0.5,"s":"LQ"},{"t":6.92,"v":3.4,"s":"LQ"},{"t":7.15,"v":-1.0,"s":"LQ"},{"t":7.35,"v":-4.2,"s":"LQ"},{"t":7.5,"v":0,"s":"LQ"},{"t":7.65,"v":3.5,"s":"LQ"},{"t":7.8,"v":0,"s":"LQ"},{"t":7.95,"v":-3.5,"s":"LQ"},{"t":8.1,"v":1.0,"s":"LQ"},{"t":8.25,"v":3.2,"s":"LQ"},{"t":8.45,"v":0,"s":"LQ"},{"t":8.6,"v":-2.6,"s":"LQ"},{"t":8.8,"v":2.5,"s":"LQ"},{"t":8.95,"v":3.3,"s":"LQ"},{"t":9.1,"v":-1.0,"s":"LQ"},{"t":9.25,"v":-1.5,"s":"LQ"},{"t":9.4,"v":2.0,"s":"LQ"},{"t":9.5,"v":2.2,"s":"LQ"},{"t":9.65,"v":-1.2,"s":"LQ"},{"t":9.8,"v":-1.5,"s":"LQ"},{"t":9.95,"v":2.0,"s":"LQ"},{"t":10,"v":0,"s":"LQ"},
{"t":0,"v":0,"s":"Lyap"},{"t":0.18,"v":1.05,"s":"Lyap"},{"t":0.33,"v":2.6,"s":"Lyap"},{"t":0.47,"v":4.2,"s":"Lyap"},{"t":0.62,"v":5.8,"s":"Lyap"},{"t":0.71,"v":6.9,"s":"Lyap"},{"t":0.79,"v":7.1,"s":"Lyap"},{"t":0.88,"v":7.4,"s":"Lyap"},{"t":0.93,"v":6.9,"s":"Lyap"},{"t":1.0,"v":6.9,"s":"Lyap"},{"t":1.08,"v":7.0,"s":"Lyap"},{"t":1.15,"v":6.5,"s":"Lyap"},{"t":1.22,"v":6.7,"s":"Lyap"},{"t":1.29,"v":6.9,"s":"Lyap"},{"t":1.37,"v":7.3,"s":"Lyap"},{"t":1.44,"v":7.1,"s":"Lyap"},{"t":1.5,"v":7.4,"s":"Lyap"},{"t":1.6,"v":7.6,"s":"Lyap"},{"t":1.68,"v":7.6,"s":"Lyap"},{"t":1.75,"v":7.1,"s":"Lyap"},{"t":1.82,"v":5.8,"s":"Lyap"},{"t":1.92,"v":4.2,"s":"Lyap"},{"t":1.98,"v":2.7,"s":"Lyap"},{"t":2.04,"v":2.4,"s":"Lyap"},{"t":2.11,"v":0.1,"s":"Lyap"},{"t":2.18,"v":-2.1,"s":"Lyap"},{"t":2.25,"v":-4.0,"s":"Lyap"},{"t":2.3,"v":-5.7,"s":"Lyap"},{"t":2.4,"v":-6.0,"s":"Lyap"},{"t":2.5,"v":-5.9,"s":"Lyap"},{"t":2.56,"v":-5.7,"s":"Lyap"},{"t":2.67,"v":-7.0,"s":"Lyap"},{"t":2.77,"v":-6.7,"s":"Lyap"},{"t":2.88,"v":-5.5,"s":"Lyap"},{"t":2.98,"v":-4.2,"s":"Lyap"},{"t":3.07,"v":-3.6,"s":"Lyap"},{"t":3.17,"v":-2.5,"s":"Lyap"},{"t":3.31,"v":1.6,"s":"Lyap"},{"t":3.41,"v":2.6,"s":"Lyap"},{"t":3.49,"v":2.7,"s":"Lyap"},{"t":3.6,"v":2.0,"s":"Lyap"},{"t":3.75,"v":-0.6,"s":"Lyap"},{"t":3.84,"v":-1.8,"s":"Lyap"},{"t":3.97,"v":-4.9,"s":"Lyap"},{"t":4.08,"v":-3.6,"s":"Lyap"},{"t":4.23,"v":-1.0,"s":"Lyap"},{"t":4.37,"v":2.4,"s":"Lyap"},{"t":4.49,"v":3.8,"s":"Lyap"},{"t":4.61,"v":2.7,"s":"Lyap"},{"t":4.76,"v":0.5,"s":"Lyap"},{"t":4.9,"v":-1.8,"s":"Lyap"},{"t":4.97,"v":-3.5,"s":"Lyap"},{"t":5.07,"v":-2.1,"s":"Lyap"},{"t":5.16,"v":0.1,"s":"Lyap"},{"t":5.26,"v":2.2,"s":"Lyap"},{"t":5.36,"v":3.5,"s":"Lyap"},{"t":5.42,"v":3.9,"s":"Lyap"},{"t":5.5,"v":2.7,"s":"Lyap"},{"t":5.6,"v":0.5,"s":"Lyap"},{"t":5.69,"v":-1.0,"s":"Lyap"},{"t":5.79,"v":-2.5,"s":"Lyap"},{"t":5.86,"v":-3.6,"s":"Lyap"},{"t":5.93,"v":-2.5,"s":"Lyap"},{"t":6.03,"v":0.1,"s":"Lyap"},{"t":6.13,"v":1.2,"s":"Lyap"},{"t":6.19,"v":3.8,"s":"Lyap"},{"t":6.27,"v":2.7,"s":"Lyap"},{"t":6.37,"v":0.5,"s":"Lyap"},{"t":6.46,"v":-0.6,"s":"Lyap"},{"t":6.56,"v":-2.5,"s":"Lyap"},{"t":6.66,"v":-3.5,"s":"Lyap"},{"t":6.75,"v":-1.0,"s":"Lyap"},{"t":6.85,"v":1.2,"s":"Lyap"},{"t":6.95,"v":2.7,"s":"Lyap"},{"t":7.01,"v":3.9,"s":"Lyap"},{"t":7.11,"v":0.5,"s":"Lyap"},{"t":7.19,"v":-1.0,"s":"Lyap"},{"t":7.28,"v":-1.8,"s":"Lyap"},{"t":7.36,"v":-3.5,"s":"Lyap"},{"t":7.46,"v":-0.6,"s":"Lyap"},{"t":7.55,"v":2.4,"s":"Lyap"},{"t":7.62,"v":3.1,"s":"Lyap"},{"t":7.69,"v":3.8,"s":"Lyap"},{"t":7.76,"v":2.0,"s":"Lyap"},{"t":7.86,"v":-1.4,"s":"Lyap"},{"t":7.96,"v":-2.7,"s":"Lyap"},{"t":8.05,"v":0.9,"s":"Lyap"},{"t":8.13,"v":3.1,"s":"Lyap"},{"t":8.2,"v":3.3,"s":"Lyap"},{"t":8.32,"v":3.5,"s":"Lyap"},{"t":8.44,"v":0.5,"s":"Lyap"},{"t":8.53,"v":-2.1,"s":"Lyap"},{"t":8.63,"v":-2.3,"s":"Lyap"},{"t":8.75,"v":0.5,"s":"Lyap"},{"t":8.81,"v":3.1,"s":"Lyap"},{"t":8.92,"v":3.1,"s":"Lyap"},{"t":9.02,"v":2.0,"s":"Lyap"},{"t":9.11,"v":-1.0,"s":"Lyap"},{"t":9.21,"v":-0.6,"s":"Lyap"},{"t":9.3,"v":0.9,"s":"Lyap"},{"t":9.37,"v":3.5,"s":"Lyap"},{"t":9.45,"v":1.6,"s":"Lyap"},{"t":9.55,"v":-0.3,"s":"Lyap"},{"t":9.69,"v":-1.8,"s":"Lyap"},{"t":9.79,"v":-1.0,"s":"Lyap"},{"t":9.9,"v":0.1,"s":"Lyap"},{"t":9.96,"v":2.7,"s":"Lyap"},{"t":10,"v":-1.0,"s":"Lyap"}
]
},
"concat": [
{
 "width": 346, "height": 177,
 "title": {"text": ["Input wheel angle from driver δD and", "mean front wheel angle δw as a function of time t"], "anchor": "start", "align": "left", "frame": "group", "dx": 14, "offset": -33, "lineHeight": 24, "baseline": "bottom"},
 "data": {"name": "d1"},
 "transform": [{"fold": ["D", "LQ", "Lyap"], "as": ["k", "v"]}, {"lookup": "k", "from": {"data": {"values": [{"k": "D", "s": "δD"}, {"k": "LQ", "s": "LQ"}, {"k": "Lyap", "s": "Lyap"}]}, "key": "k", "fields": ["s"]}}],
 "mark": {"type": "line", "interpolate": "monotone", "strokeWidth": 1},
 "encoding": {
  "x": {"field": "t", "type": "quantitative", "scale": {"domain": [0, 10], "nice": false, "zero": false}, "axis": {"values": [0, 2, 4, 6, 8, 10], "title": "t [s]"}},
  "y": {"field": "v", "type": "quantitative", "scale": {"domain": [-10, 10], "nice": false}, "axis": {"values": [-10, -5, 0, 5, 10], "title": "δ [°]", "titleX": -36}},
  "color": {"field": "s", "type": "nominal", "scale": {"domain": ["δD", "LQ", "Lyap"], "range": ["#ff0000", "#000000", "#0000ff"]}, "legend": {"title": null, "legendX": 252, "legendY": 5, "padding": 6, "rowPadding": 4, "symbolType": "M1.3,0H6.3"}},
  "strokeDash": {"field": "s", "type": "nominal", "scale": {"domain": ["δD", "LQ", "Lyap"], "range": [[6, 4, 1, 4], [6, 4, 1, 4], [1, 0]]}, "legend": {"title": null, "legendX": 252, "legendY": 5, "padding": 6, "rowPadding": 4, "symbolType": "M1.3,0H6.3"}}
 }
},
{
 "width": 346, "height": 177,
 "title": {"text": "Yaw rate dψ/dt as a function of time t"},
 "data": {"name": "d2"},
 "mark": {"type": "line", "interpolate": "monotone", "strokeWidth": 1},
 "encoding": {
  "x": {"field": "t", "type": "quantitative", "scale": {"domain": [0, 10], "nice": false, "zero": false}, "axis": {"values": [0, 2, 4, 6, 8, 10], "title": "t [s]"}},
  "y": {"field": "v", "type": "quantitative", "scale": {"domain": [-40, 40], "nice": false}, "axis": {"values": [-40, -20, 0, 20, 40], "title": "dψ/dt [°/s]", "titleX": -31}},
  "color": {"field": "s", "type": "nominal", "scale": {"domain": ["LQ", "Lyap"], "range": ["#000000", "#0000ff"]}, "legend": {"title": null, "legendX": 251, "legendY": 6}},
  "strokeDash": {"field": "s", "type": "nominal", "scale": {"domain": ["LQ", "Lyap"], "range": [[6, 4, 1, 4], [1, 0]]}, "legend": {"title": null, "legendX": 251, "legendY": 6}}
 }
},
{
 "width": 346, "height": 177,
 "title": {"text": "Roll angle ϕ as a function of time t"},
 "data": {"name": "d3"},
 "mark": {"type": "line", "interpolate": "monotone", "strokeWidth": 1},
 "encoding": {
  "x": {"field": "t", "type": "quantitative", "scale": {"domain": [0, 10], "nice": false, "zero": false}, "axis": {"values": [0, 2, 4, 6, 8, 10], "title": "t [s]"}},
  "y": {"field": "v", "type": "quantitative", "scale": {"domain": [-10, 10], "nice": false}, "axis": {"values": [-10, -5, 0, 5, 10], "title": "ϕ [°]", "titleX": -28}},
  "color": {"field": "s", "type": "nominal", "scale": {"domain": ["LQ", "Lyap"], "range": ["#000000", "#0000ff"]}, "legend": {"title": null, "legendX": 168, "legendY": 2}},
  "strokeDash": {"field": "s", "type": "nominal", "scale": {"domain": ["LQ", "Lyap"], "range": [[6, 4, 1, 4], [1, 0]]}, "legend": {"title": null, "legendX": 168, "legendY": 2}}
 }
},
{
 "width": 346, "height": 177,
 "title": {"text": "Roll rate dϕ/dt as a function of time t"},
 "data": {"name": "d4"},
 "mark": {"type": "line", "interpolate": "monotone", "strokeWidth": 1},
 "encoding": {
  "x": {"field": "t", "type": "quantitative", "scale": {"domain": [0, 10], "nice": false, "zero": false}, "axis": {"values": [0, 2, 4, 6, 8, 10], "title": "t [s]"}},
  "y": {"field": "v", "type": "quantitative", "scale": {"domain": [-100, 100], "nice": false}, "axis": {"values": [-100, -50, 0, 50, 100], "title": "dϕ/dt [°/s]", "titleX": -33}},
  "color": {"field": "s", "type": "nominal", "scale": {"domain": ["LQ", "Lyap"], "range": ["#000000", "#0000ff"]}, "legend": {"title": null, "legendX": 183, "legendY": 3}},
  "strokeDash": {"field": "s", "type": "nominal", "scale": {"domain": ["LQ", "Lyap"], "range": [[6, 4, 1, 4], [1, 0]]}, "legend": {"title": null, "legendX": 183, "legendY": 3}}
 }
},
{
 "width": 346, "height": 177,
 "title": {"text": "Slip angle β as a function of time t"},
 "data": {"name": "d5"},
 "mark": {"type": "line", "interpolate": "monotone", "strokeWidth": 1},
 "encoding": {
  "x": {"field": "t", "type": "quantitative", "scale": {"domain": [0, 10], "nice": false, "zero": false}, "axis": {"values": [0, 2, 4, 6, 8, 10], "title": "t [s]"}},
  "y": {"field": "v", "type": "quantitative", "scale": {"domain": [-10, 10], "nice": false}, "axis": {"values": [-10, -5, 0, 5, 10], "title": "β [°]", "titleX": -28}},
  "color": {"field": "s", "type": "nominal", "scale": {"domain": ["LQ", "Lyap"], "range": ["#000000", "#0000ff"]}, "legend": {"title": null, "legendX": 255, "legendY": 7}},
  "strokeDash": {"field": "s", "type": "nominal", "scale": {"domain": ["LQ", "Lyap"], "range": [[6, 4, 1, 4], [1, 0]]}, "legend": {"title": null, "legendX": 255, "legendY": 7}}
 }
},
{
 "width": 346, "height": 177,
 "title": {"text": "Lateral acceleration aᵧ as a function of time t"},
 "data": {"name": "d6"},
 "mark": {"type": "line", "interpolate": "monotone", "strokeWidth": 1},
 "encoding": {
  "x": {"field": "t", "type": "quantitative", "scale": {"domain": [0, 10], "nice": false, "zero": false}, "axis": {"values": [0, 2, 4, 6, 8, 10], "title": "t [s]"}},
  "y": {"field": "v", "type": "quantitative", "scale": {"domain": [-10, 10], "nice": false}, "axis": {"values": [-10, -5, 0, 5, 10], "title": "aᵧ [m/s²]", "titleX": -40}},
  "color": {"field": "s", "type": "nominal", "scale": {"domain": ["Static limit", "LQ", "Lyap"], "range": ["#ff0000", "#000000", "#0000ff"]}, "legend": {"title": null, "legendX": 263, "legendY": 121, "padding": 3, "rowPadding": 3, "symbolType": "M1.3,0H10.7", "symbolOffset": 0, "labelOffset": 56.5}},
  "strokeDash": {"field": "s", "type": "nominal", "scale": {"domain": ["Static limit", "LQ", "Lyap"], "range": [[10, 5], [6, 4, 1, 4], [1, 0]]}, "legend": {"title": null, "legendX": 263, "legendY": 121, "padding": 3, "rowPadding": 3, "symbolType": "M1.3,0H10.7", "symbolOffset": 0, "labelOffset": 56.5}}
 }
}
],
"config": {
 "font": "Liberation Sans",
 "view": {"stroke": "#000000", "strokeWidth": 1, "fill": "white"},
 "axis": {"labelFont": "Liberation Sans", "labelFontSize": 18, "labelColor": "#000000", "titleFont": "Liberation Sans", "titleFontSize": 18, "titleFontWeight": "normal", "titleColor": "#000000", "ticks": false, "tickSize": 0, "domain": false, "grid": true, "gridColor": "#000000", "gridDash": [1, 3], "gridOpacity": 0.7, "gridWidth": 1, "labelFlush": false, "labelOverlap": false, "labelBound": false},
 "axisX": {"labelBaseline": "alphabetic", "labelPadding": 23, "titleX": 173, "titleY": 17, "titleBaseline": "alphabetic", "titleAlign": "center", "titleAngle": 0},
 "axisY": {"labelPadding": 6, "titleAngle": 270, "titleBaseline": "middle", "titleAlign": "center", "titleY": 88},
 "title": {"font": "Liberation Sans", "fontSize": 18, "fontWeight": "normal", "color": "#000000", "offset": -2, "anchor": "middle", "frame": "group"},
 "legend": {"orient": "none", "fillColor": "white", "strokeColor": "#000000", "padding": 3, "rowPadding": 1, "labelFont": "Liberation Sans", "labelFontSize": 17, "labelColor": "#000000", "labelAlign": "left", "symbolStrokeWidth": 1, "symbolSize": 100, "symbolType": "M1.3,0H6.1", "symbolOffset": 0, "labelOffset": 28.5, "cornerRadius": 0}
}
}
